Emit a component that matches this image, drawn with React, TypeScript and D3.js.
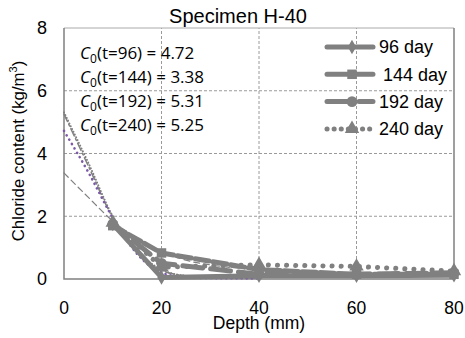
import { useEffect, useRef } from "react";
import * as d3 from "d3";

// measured chloride content (kg/m3) at each depth (mm)
const depths = [10, 20, 40, 60, 80];
const day96 = [1.75, 0.05, 0.1, 0.1, 0.12];
const day144 = [1.7, 0.83, 0.3, 0.15, 0.15];
const day192 = [1.75, 0.5, 0.15, 0.15, 0.2];
const day240 = [1.8, 0.38, 0.45, 0.4, 0.25];

// fitted profiles
const fitDepths = [0, 5, 10, 15, 20, 25, 30, 40];
const fit96 = [4.72, 3.4, 1.95, 0.8, 0.2, 0.05, 0.03, 0.02];
const fit144 = [3.38, 2.6, 1.85, 1.3, 0.88, 0.6, 0.45, 0.3];
const fit192 = [5.31, 3.7, 2.0, 0.9, 0.3, 0.1, 0.05, 0.03];
const fit240 = [5.25, 3.6, 1.95, 0.85, 0.28, 0.1, 0.05, 0.03];

const legendLabels = ["96 day", "144 day", "192 day", "240 day"];
const c0Labels = ["96", "144", "192", "240"];
const c0Values = ["4.72", "3.38", "5.31", "5.25"];
const xTicks = [0, 20, 40, 60, 80];
const yTicks = [0, 2, 4, 6, 8];

const W = 465;
const H = 338;
const GRAY = "#808080";
const PURPLE = "#7b5aa6";

export default function App() {
  const ref = useRef<SVGSVGElement>(null);

  useEffect(() => {
    if (!ref.current) return;
    const svg = d3.select(ref.current);
    svg.selectAll("*").remove();

    const m = { left: 64, right: 11, top: 28, bottom: 59 };
    const x = d3.scaleLinear().domain([0, 80]).range([m.left, W - m.right]);
    const y = d3.scaleLinear().domain([0, 8]).range([H - m.bottom, m.top]);
    const font = "Liberation Sans, Arial, sans-serif";

    svg.append("rect").attr("width", W).attr("height", H).attr("fill", "#fff");

    // grid
    const grid = svg.append("g").attr("stroke", "#9a9a9a").attr("stroke-width", 1).attr("stroke-dasharray", "3,2");
    grid.selectAll(".gx").data(xTicks.slice(1, -1)).join("line")
      .attr("x1", d => x(d)).attr("x2", d => x(d)).attr("y1", y(0)).attr("y2", y(8));
    grid.selectAll(".gy").data(yTicks.slice(1, -1)).join("line")
      .attr("x1", x(0)).attr("x2", x(80)).attr("y1", d => y(d)).attr("y2", d => y(d));

    // frame
    svg.append("line").attr("x1", x(0)).attr("x2", x(80)).attr("y1", y(8)).attr("y2", y(8))
      .attr("stroke", "#aaa").attr("stroke-width", 1);
    svg.append("path")
      .attr("d", `M${x(0)},${y(8)}V${y(0)}H${x(80)}V${y(8)}`)
      .attr("fill", "none").attr("stroke", GRAY).attr("stroke-width", 1.5);

    // fitted curves
    const fitLine = d3.line<number>().x((_, i) => x(fitDepths[i])).y(d => y(d)).curve(d3.curveMonotoneX);
    const fits: [number[], string, string, number][] = [
      [fit144, GRAY, "6,4", 1.2],
      [fit240, GRAY, "8,3,2,3", 1.5],
      [fit192, GRAY, "0.1,3", 2],
      [fit96, PURPLE, "0.1,5", 2.6],
    ];
    fits.forEach(([vals, color, dash, w]) => {
      svg.append("path").datum(vals).attr("d", fitLine)
        .attr("fill", "none").attr("stroke", color).attr("stroke-width", w)
        .attr("stroke-dasharray", dash).attr("stroke-linecap", "round");
    });

    // measured series
    const series: [number[], string, string][] = [
      [day96, "none", "diamond"],
      [day144, "14,4", "square"],
      [day192, "20,8", "circle"],
      [day240, "0.1,9", "triangle"],
    ];
    const symbols: Record<string, d3.SymbolType> = {
      diamond: d3.symbolDiamond,
      square: d3.symbolSquare,
      circle: d3.symbolCircle,
      triangle: d3.symbolTriangle,
    };
    const dataLine = d3.line<number>().x((_, i) => x(depths[i])).y(d => y(d));
    series.forEach(([vals, dash, sym]) => {
      svg.append("path").datum(vals).attr("d", dataLine)
        .attr("fill", "none").attr("stroke", GRAY).attr("stroke-width", 5)
        .attr("stroke-dasharray", dash).attr("stroke-linecap", "round").attr("stroke-linejoin", "round");
      svg.append("g").selectAll("path").data(vals).join("path")
        .attr("transform", (d, i) => `translate(${x(depths[i])},${y(d)})`)
        .attr("d", d3.symbol().type(symbols[sym]).size(sym === "diamond" ? 60 : 90))
        .attr("fill", GRAY);
    });

    // axis labels
    svg.append("g").selectAll("text").data(yTicks).join("text")
      .attr("x", 47).attr("y", d => y(d)).attr("dy", "0.36em").attr("text-anchor", "end")
      .attr("font-family", font).attr("font-size", 18).text(d => d);
    svg.append("g").selectAll("text").data(xTicks).join("text")
      .attr("x", d => x(d)).attr("y", 314).attr("text-anchor", "middle")
      .attr("font-family", font).attr("font-size", 17.5).text(d => d);

    svg.append("text").attr("x", 259).attr("y", 329).attr("text-anchor", "middle")
      .attr("font-family", font).attr("font-size", 17.5).text("Depth (mm)");

    const yt = svg.append("text").attr("transform", `translate(24,151) rotate(-90)`)
      .attr("text-anchor", "middle").attr("font-family", font).attr("font-size", 16.8);
    yt.append("tspan").text("Chloride content (kg/m");
    yt.append("tspan").attr("font-size", 11).attr("dy", -7).text("3");
    yt.append("tspan").attr("dy", 7).text(")");

    svg.append("text").attr("x", 238).attr("y", 23).attr("text-anchor", "middle")
      .attr("font-family", font).attr("font-size", 20).text("Specimen H-40");

    // C0 annotations
    const cfont = "Open Sans, Noto Sans, sans-serif";
    c0Labels.forEach((t, i) => {
      const tx = svg.append("text").attr("x", 80).attr("y", 59 + i * 24)
        .attr("font-family", cfont).attr("font-size", 17);
      tx.append("tspan").attr("font-style", "italic").text("C");
      tx.append("tspan").attr("font-size", 12).attr("dy", 4).text("0");
      tx.append("tspan").attr("dy", -4).text(`(t=${t}) = ${c0Values[i]}`);
    });

    // legend
    legendLabels.forEach((lab, i) => {
      const ly = 47 + i * 27.3;
      const [, dash, sym] = series[i];
      svg.append("line").attr("x1", 327).attr("x2", 373).attr("y1", ly).attr("y2", ly)
        .attr("stroke", GRAY).attr("stroke-width", 5).attr("stroke-linecap", "round")
        .attr("stroke-dasharray", dash === "none" ? null : dash === "0.1,9" ? "0.1,7" : dash === "20,8" ? "24,8" : "22,3");
      svg.append("path").attr("transform", `translate(352,${ly})`)
        .attr("d", d3.symbol().type(symbols[sym]).size(sym === "diamond" ? 60 : 90)).attr("fill", GRAY);
      svg.append("text").attr("x", i === 1 ? 383 : 379).attr("y", ly).attr("dy", "0.36em")
        .attr("font-family", font).attr("font-size", 18).text(lab);
    });
  }, []);

  return <svg ref={ref} width={W} height={H} style={{ position: "absolute", left: 0, top: 0 }} />;
}
